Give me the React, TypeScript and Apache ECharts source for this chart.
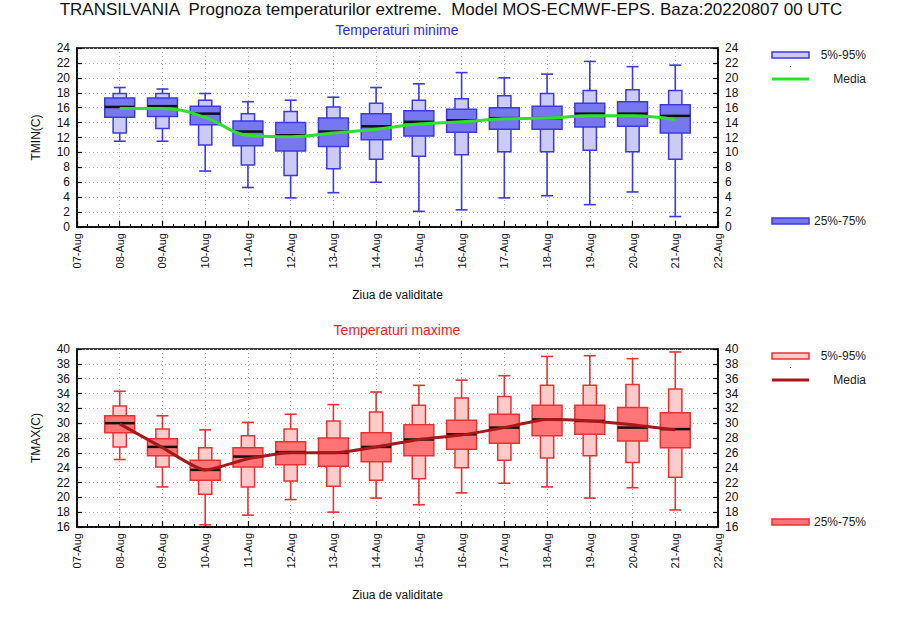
import React, { useEffect, useRef } from "react";
import * as echarts from "echarts";

const xTickLabels = ["07-Aug", "08-Aug", "09-Aug", "10-Aug", "11-Aug", "12-Aug", "13-Aug", "14-Aug", "15-Aug", "16-Aug", "17-Aug", "18-Aug", "19-Aug", "20-Aug", "21-Aug", "22-Aug"];
const dayPos = [1, 2, 3, 4, 5, 6, 7, 8, 9, 10, 11, 12, 13, 14];

// TMIN
const tminLo = [11.5, 11.5, 7.5, 5.3, 3.9, 4.6, 6.0, 2.1, 2.3, 3.9, 4.2, 3.0, 4.7, 1.4];
const tminP5 = [12.6, 13.2, 11.0, 8.3, 6.9, 7.8, 9.1, 9.5, 9.7, 10.1, 10.1, 10.3, 10.1, 9.1];
const tminP25 = [14.7, 14.8, 13.7, 10.9, 10.2, 10.8, 11.7, 12.2, 12.7, 13.1, 13.1, 13.4, 13.5, 12.6];
const tminMed = [16.1, 16.2, 15.2, 12.8, 12.3, 12.8, 13.5, 14.1, 14.3, 14.6, 14.6, 15.2, 15.2, 14.9];
const tminP75 = [17.3, 17.3, 16.2, 14.2, 14.0, 14.6, 15.2, 15.6, 15.8, 16.0, 16.2, 16.6, 16.8, 16.4];
const tminP95 = [17.9, 17.9, 17.0, 15.2, 15.5, 16.1, 16.6, 17.0, 17.2, 17.6, 17.9, 18.3, 18.4, 18.3];
const tminHi = [18.7, 18.5, 17.9, 16.8, 17.0, 17.4, 18.7, 19.2, 20.7, 20.0, 20.5, 22.2, 21.5, 21.7];
const tminMean = [15.9, 15.9, 14.7, 12.3, 12.1, 12.6, 13.1, 13.8, 14.1, 14.5, 14.6, 14.9, 14.9, 14.4];

// TMAX
const tmaxLo = [25.1, 21.4, 16.3, 17.6, 19.7, 18.0, 19.9, 19.0, 20.6, 21.9, 21.4, 19.9, 21.3, 18.3];
const tmaxP5 = [26.8, 24.1, 20.4, 21.4, 22.2, 21.5, 22.3, 22.5, 24.0, 25.0, 25.3, 25.6, 24.7, 22.7];
const tmaxP25 = [28.7, 25.6, 22.3, 24.1, 24.4, 24.2, 24.8, 25.6, 26.5, 27.3, 28.3, 28.5, 27.6, 26.7];
const tmaxMed = [30.0, 26.8, 23.7, 25.5, 26.1, 26.0, 26.8, 27.8, 28.5, 29.4, 30.5, 30.3, 29.4, 29.2];
const tmaxP75 = [31.0, 27.9, 25.0, 26.7, 27.5, 28.0, 28.7, 29.8, 30.4, 31.2, 32.4, 32.4, 32.1, 31.4];
const tmaxP95 = [32.3, 29.2, 26.7, 28.3, 29.2, 30.3, 31.5, 32.4, 33.4, 33.6, 35.1, 35.1, 35.2, 34.6];
const tmaxHi = [34.3, 31.0, 29.1, 30.1, 31.2, 32.5, 34.2, 35.1, 35.8, 36.4, 39.0, 39.1, 38.7, 39.6];
const tmaxMean = [29.9, 26.7, 23.7, 25.2, 26.0, 26.0, 26.8, 27.8, 28.4, 29.4, 30.5, 30.3, 29.8, 29.1];

const FONT = "'Liberation Sans', Arial, sans-serif";

function rows(lo: number[], p5: number[], p25: number[], med: number[], p75: number[], p95: number[], hi: number[]) {
  return dayPos.map((d, i) => [d, lo[i], p5[i], p25[i], med[i], p75[i], p95[i], hi[i]]);
}

function makeRender(stroke: string, light: string, dark: string) {
  return (params: any, api: any) => {
    const x = api.value(0);
    const c = (v: number) => api.coord([x, v]);
    const pLo = c(api.value(1));
    const p5 = c(api.value(2));
    const p25 = c(api.value(3));
    const pMed = c(api.value(4));
    const p75 = c(api.value(5));
    const p95 = c(api.value(6));
    const pHi = c(api.value(7));
    const w = api.size([1, 0])[0];
    const cx = pLo[0];
    const dw = w * 0.35;
    const lw = w * 0.155;
    const cw = w * 0.14;
    return {
      type: "group",
      children: [
        { type: "line", shape: { x1: cx, y1: pLo[1], x2: cx, y2: pHi[1] }, style: { stroke, lineWidth: 1.6 } },
        { type: "line", shape: { x1: cx - cw, y1: pLo[1], x2: cx + cw, y2: pLo[1] }, style: { stroke, lineWidth: 1.6 } },
        { type: "line", shape: { x1: cx - cw, y1: pHi[1], x2: cx + cw, y2: pHi[1] }, style: { stroke, lineWidth: 1.6 } },
        { type: "rect", shape: { x: cx - lw, y: p95[1], width: 2 * lw, height: p5[1] - p95[1] }, style: { fill: light, stroke, lineWidth: 1.5 } },
        { type: "rect", shape: { x: cx - dw, y: p75[1], width: 2 * dw, height: p25[1] - p75[1] }, style: { fill: dark, stroke, lineWidth: 1.5 } },
        { type: "line", shape: { x1: cx - dw, y1: pMed[1], x2: cx + dw, y2: pMed[1] }, style: { stroke: "#111", lineWidth: 2.5 } },
      ],
    };
  };
}

function xAxisCfg(gridIndex: number) {
  return {
    type: "value",
    gridIndex,
    min: 0,
    max: 15,
    interval: 1,
    name: "Ziua de validitate",
    nameLocation: "middle",
    nameGap: 62,
    nameTextStyle: { color: "#111", fontSize: 12, fontFamily: FONT },
    axisLine: { show: true, lineStyle: { color: "#000", width: 1.5 } },
    axisTick: { show: true, inside: true, length: 6, lineStyle: { color: "#000", width: 1.2 } },
    minorTick: { show: true, splitNumber: 4, length: 3, lineStyle: { color: "#000", width: 1 } },
    axisLabel: {
      rotate: 90,
      color: "#111",
      fontSize: 11,
      fontFamily: FONT,
      margin: 6,
      formatter: (v: number) => xTickLabels[Math.round(v)] ?? "",
    },
    splitLine: { show: true, lineStyle: { color: "#aaa", type: [1, 3], width: 1 } },
  };
}

function yAxisCfg(gridIndex: number, min: number, max: number, position: string, name: string) {
  return {
    type: "value",
    gridIndex,
    min,
    max,
    interval: 2,
    position,
    name,
    nameLocation: "middle",
    nameGap: 35,
    nameRotate: 90,
    nameTextStyle: { color: "#111", fontSize: 12, fontFamily: FONT },
    axisLine: { show: true, lineStyle: { color: "#000", width: 1.5 } },
    axisTick: { show: true, inside: true, length: 5, lineStyle: { color: "#000", width: 1.2 } },
    axisLabel: { color: "#111", fontSize: 12, fontFamily: FONT, margin: 7 },
    splitLine: { show: position === "left", lineStyle: { color: "#aaa", type: [1, 3], width: 1 } },
  };
}

function legend(y0: number, stroke: string, light: string, dark: string, lineColor: string) {
  const tx = 866;
  const ts = { fontSize: 12, fontFamily: FONT, fill: "#222", align: "right", verticalAlign: "middle" };
  return [
    { type: "rect", shape: { x: 772, y: y0 - 3, width: 37, height: 6 }, style: { fill: light, stroke, lineWidth: 1.5 } },
    { type: "text", x: tx, y: y0, style: { ...ts, text: "5%-95%" } },
    { type: "rect", shape: { x: 790, y: y0 + 11, width: 1, height: 1 }, style: { fill: "#444" } },
    { type: "line", shape: { x1: 772, y1: y0 + 24, x2: 809, y2: y0 + 24 }, style: { stroke: lineColor, lineWidth: 3 } },
    { type: "text", x: tx, y: y0 + 24, style: { ...ts, text: "Media" } },
    { type: "rect", shape: { x: 772, y: y0 + 163, width: 37, height: 6 }, style: { fill: dark, stroke, lineWidth: 1.5 } },
    { type: "text", x: tx, y: y0 + 166, style: { ...ts, text: "25%-75%" } },
  ];
}

export default function App() {
  const ref = useRef<HTMLDivElement>(null);
  useEffect(() => {
    if (!ref.current) return;
    const chart = echarts.init(ref.current, undefined, { renderer: "svg" });
    const blue = "#3a3ae0";
    const blueLight = "#cbcbf6";
    const blueDark = "#7878ee";
    const red = "#e83232";
    const redLight = "#ffcaca";
    const redDark = "#ff7474";
    chart.setOption({
      animation: false,
      backgroundColor: "#fff",
      title: [
        {
          text: "TRANSILVANIA  Prognoza temperaturilor extreme.  Model MOS-ECMWF-EPS. Baza:20220807 00 UTC",
          left: 451,
          textAlign: "center",
          top: 1,
          padding: 0,
          textStyle: { fontSize: 17, fontWeight: "normal", color: "#111", fontFamily: FONT },
        },
        {
          text: "Temperaturi minime",
          left: 397,
          textAlign: "center",
          top: 23,
          padding: 0,
          textStyle: { fontSize: 14, fontWeight: "normal", color: "#2a2ae8", fontFamily: FONT },
        },
        {
          text: "Temperaturi maxime",
          left: 397,
          textAlign: "center",
          top: 323,
          padding: 0,
          textStyle: { fontSize: 14, fontWeight: "normal", color: "#ee2222", fontFamily: FONT },
        },
      ],
      grid: [
        { left: 77, width: 641, top: 48, height: 179, show: true, borderColor: "#000", borderWidth: 1.5, backgroundColor: "transparent" },
        { left: 77, width: 641, top: 349, height: 178, show: true, borderColor: "#000", borderWidth: 1.5, backgroundColor: "transparent" },
      ],
      xAxis: [xAxisCfg(0), xAxisCfg(1)],
      yAxis: [
        yAxisCfg(0, 0, 24, "left", "TMIN(C)"),
        yAxisCfg(0, 0, 24, "right", ""),
        yAxisCfg(1, 16, 40, "left", "TMAX(C)"),
        yAxisCfg(1, 16, 40, "right", ""),
      ],
      series: [
        {
          type: "custom",
          xAxisIndex: 0,
          yAxisIndex: 0,
          renderItem: makeRender(blue, blueLight, blueDark),
          encode: { x: 0, y: [1, 2, 3, 4, 5, 6, 7] },
          data: rows(tminLo, tminP5, tminP25, tminMed, tminP75, tminP95, tminHi),
          z: 2,
        },
        {
          type: "line",
          xAxisIndex: 0,
          yAxisIndex: 0,
          data: dayPos.map((d, i) => [d, tminMean[i]]),
          smooth: 0.4,
          showSymbol: false,
          lineStyle: { color: "#2ee02e", width: 3 },
          z: 5,
        },
        {
          type: "custom",
          xAxisIndex: 1,
          yAxisIndex: 2,
          renderItem: makeRender(red, redLight, redDark),
          encode: { x: 0, y: [1, 2, 3, 4, 5, 6, 7] },
          data: rows(tmaxLo, tmaxP5, tmaxP25, tmaxMed, tmaxP75, tmaxP95, tmaxHi),
          z: 2,
        },
        {
          type: "line",
          xAxisIndex: 1,
          yAxisIndex: 2,
          data: dayPos.map((d, i) => [d, tmaxMean[i]]),
          smooth: 0.2,
          showSymbol: false,
          lineStyle: { color: "#a81818", width: 3 },
          z: 5,
        },
      ],
      graphic: [
        ...legend(55, blue, blueLight, blueDark, "#2ee02e"),
        ...legend(356, red, redLight, redDark, "#a81818"),
      ],
    });
    return () => chart.dispose();
  }, []);
  return <div ref={ref} style={{ position: "fixed", left: 0, top: 0, width: 900, height: 622 }} />;
}
